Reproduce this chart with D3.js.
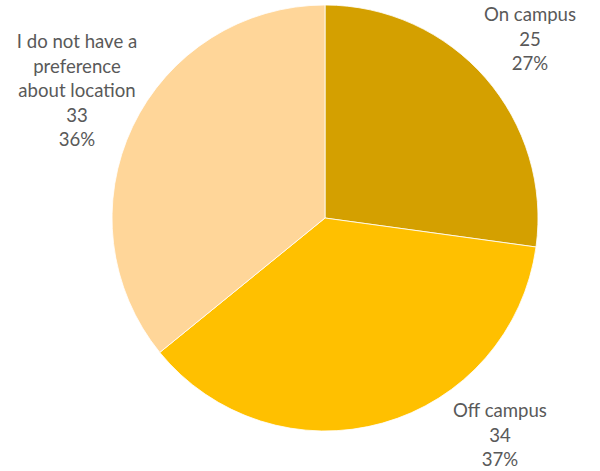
<!DOCTYPE html>
<html><head><meta charset="utf-8">
<script src="https://cdn.jsdelivr.net/npm/d3@7"></script>
<style>body{margin:0;background:#fff;}svg{display:block;}</style>
</head><body>
<svg id="chart" width="600" height="471"></svg>
<script>
const categories = ["On campus", "Off campus", "I do not have a preference about location"];
const values = [25, 34, 33];
const percents = ["27%", "37%", "36%"];
const labelLines = [["On campus"], ["Off campus"], ["I do not have a", "preference", "about location"]];
const colors = ["#D4A000", "#FFC000", "#FFD699"];

const svg = d3.select("#chart");
const cx = 325, cy = 218, r = 213;
const g = svg.append("g").attr("transform", `translate(${cx},${cy})`);
const pie = d3.pie().sort(null).value(d => d)(values);
const arc = d3.arc().innerRadius(0).outerRadius(r);
g.selectAll("path").data(pie).enter().append("path")
  .attr("d", arc).attr("fill", (d, i) => colors[i])
  .attr("stroke", "#fff").attr("stroke-width", 0.8);

// label positions (centre x, first baseline y)
const labelPos = [[530, 21], [500, 417], [77, 48]];
const lh = 24.5;
categories.forEach((c, i) => {
  const lines = labelLines[i].concat([String(values[i]), percents[i]]);
  const t = svg.append("text").attr("text-anchor", "middle")
    .attr("font-family", "Lato, Carlito, 'Open Sans', sans-serif")
    .attr("font-size", 18.6).attr("fill", "#595959");
  lines.forEach((l, j) => {
    t.append("tspan").attr("x", labelPos[i][0]).attr("y", labelPos[i][1] + j * lh).text(l);
  });
});
</script>
</body></html>
